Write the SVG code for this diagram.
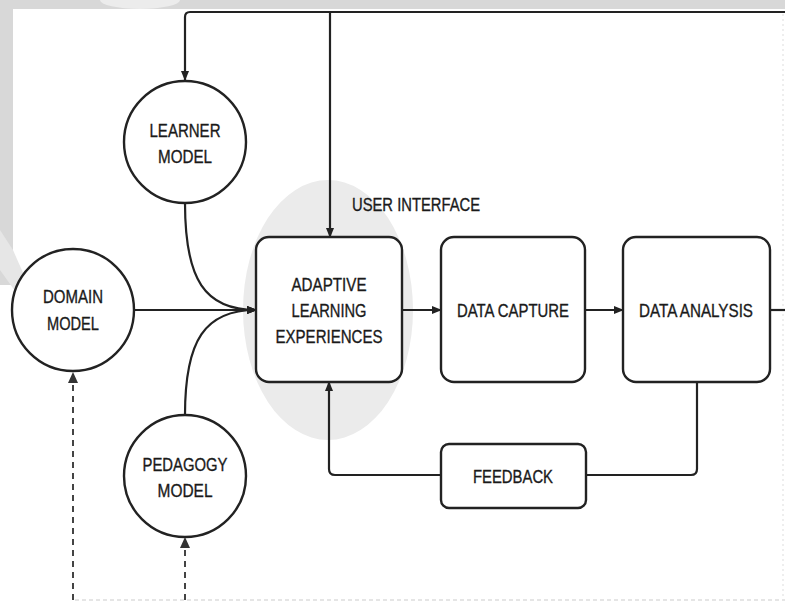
<svg xmlns="http://www.w3.org/2000/svg" width="785" height="602" viewBox="0 0 785 602">
<style>
.t{font-family:"Liberation Sans",Arial,sans-serif;font-size:19px;fill:#1a1a1a;stroke:#1a1a1a;stroke-width:0.35;text-anchor:middle}
.n{fill:#fff;stroke:#222;stroke-width:2.4}
.c{fill:none;stroke:#222;stroke-width:2.2}
.d{fill:none;stroke:#444;stroke-width:2;stroke-dasharray:6 5}
</style>
<defs>
<marker id="a" markerWidth="10" markerHeight="10" refX="9" refY="5" orient="auto" markerUnits="userSpaceOnUse">
<path d="M0,1 L10,5 L0,9 Z" fill="#222"/>
</marker>
</defs>
<rect width="785" height="602" fill="#fff"/>
<g id="watermark">
<rect x="0" y="0" width="785" height="9" fill="#d8d8d8"/>
<rect x="0" y="0" width="13" height="285" fill="#d8d8d8"/>
<polygon points="0,230 13,250 35,300 20,298 0,270" fill="#e6e6e6"/>
<ellipse cx="140" cy="0" rx="40" ry="9" fill="#ececec"/>
<ellipse cx="328" cy="310" rx="85" ry="130" fill="#ebebeb"/>
<line x1="783" y1="14" x2="783" y2="598" stroke="#ddd" stroke-width="1" stroke-dasharray="2 3"/>
<line x1="75" y1="600" x2="785" y2="600" stroke="#ccc" stroke-width="1.2" stroke-dasharray="4 3"/>
</g>
<g id="connectors">
<path class="c" d="M785,12 H190 Q185,12 185,17 V80" marker-end="url(#a)"/>
<path class="c" d="M330,12 V237" marker-end="url(#a)"/>
<path class="c" d="M185,203 C185,280 205,310 256,310" marker-end="url(#a)"/>
<path class="c" d="M185,415 C185,340 205,310 256,310" marker-end="url(#a)"/>
<path class="c" d="M133,310 H256" marker-end="url(#a)"/>
<path class="c" d="M402,310 H441" marker-end="url(#a)"/>
<path class="c" d="M585,310 H623" marker-end="url(#a)"/>
<path class="c" d="M770,310 H785"/>
<path class="c" d="M697,382 V469 Q697,475 691,475 H586"/>
<path class="c" d="M441,475 H335 Q329,475 329,469 V382" marker-end="url(#a)"/>
<path class="d" d="M73,600 V374"/>
<path d="M68,383 L73,372 L78,383 Z" fill="#333"/>
<path class="d" d="M185,600 V539"/>
<path d="M180,548 L185,537 L190,548 Z" fill="#333"/>
</g>
<text class="t" x="352" y="211" textLength="128" lengthAdjust="spacingAndGlyphs" style="text-anchor:start">USER INTERFACE</text>
<g id="learner">
<circle class="n" cx="185" cy="142" r="61"/>
<text class="t" x="185" y="137" textLength="71" lengthAdjust="spacingAndGlyphs">LEARNER</text>
<text class="t" x="185" y="163" textLength="54" lengthAdjust="spacingAndGlyphs">MODEL</text>
</g>
<g id="domain">
<circle class="n" cx="73" cy="310" r="61"/>
<text class="t" x="73" y="303" textLength="60" lengthAdjust="spacingAndGlyphs">DOMAIN</text>
<text class="t" x="73" y="330" textLength="52" lengthAdjust="spacingAndGlyphs">MODEL</text>
</g>
<g id="pedagogy">
<circle class="n" cx="185" cy="476" r="61"/>
<text class="t" x="185" y="471" textLength="85" lengthAdjust="spacingAndGlyphs">PEDAGOGY</text>
<text class="t" x="185" y="497" textLength="55" lengthAdjust="spacingAndGlyphs">MODEL</text>
</g>
<g id="adaptive">
<rect class="n" x="256" y="237" width="146" height="145" rx="13"/>
<text class="t" x="329" y="291" textLength="75" lengthAdjust="spacingAndGlyphs">ADAPTIVE</text>
<text class="t" x="329" y="317" textLength="75" lengthAdjust="spacingAndGlyphs">LEARNING</text>
<text class="t" x="329" y="343" textLength="107" lengthAdjust="spacingAndGlyphs">EXPERIENCES</text>
</g>
<g id="capture">
<rect class="n" x="441" y="237" width="144" height="145" rx="13"/>
<text class="t" x="513" y="317" textLength="112" lengthAdjust="spacingAndGlyphs">DATA CAPTURE</text>
</g>
<g id="analysis">
<rect class="n" x="623" y="237" width="147" height="145" rx="13"/>
<text class="t" x="696" y="317" textLength="114" lengthAdjust="spacingAndGlyphs">DATA ANALYSIS</text>
</g>
<g id="feedback">
<rect class="n" x="441" y="444" width="145" height="64" rx="8"/>
<text class="t" x="513" y="483" textLength="80" lengthAdjust="spacingAndGlyphs">FEEDBACK</text>
</g>
</svg>
